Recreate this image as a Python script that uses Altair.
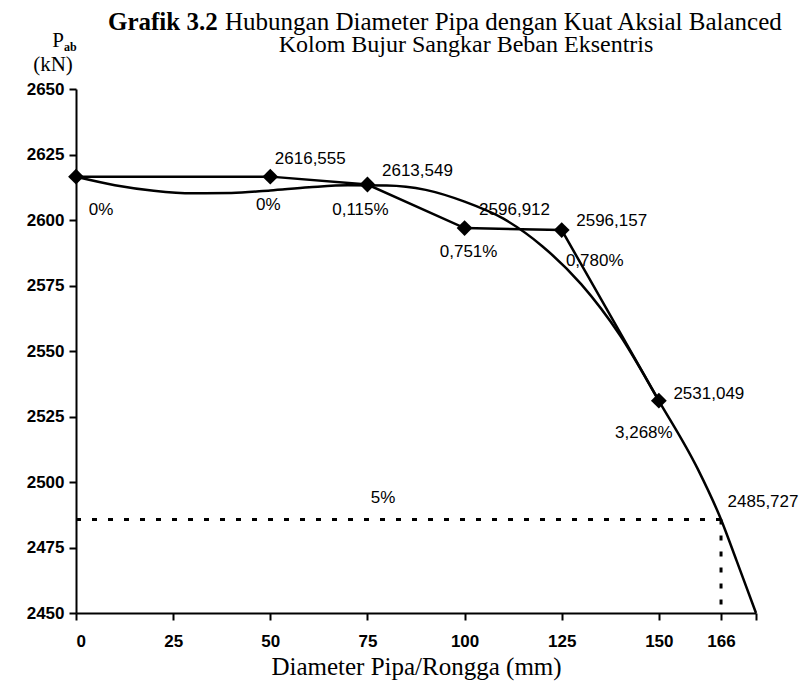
import altair as alt
import pandas as pd

# ---- data ----
diam = [0, 50, 75, 100, 125, 150]
pab = [2616.555, 2616.555, 2613.549, 2596.912, 2596.157, 2531.049]
pab_labels = ["", "2616,555", "2613,549", "2596,912", "2596,157", "2531,049"]
pct_labels = ["0%", "0%", "0,115%", "0,751%", "0,780%", "3,268%"]

trend_x = [0, 10, 20, 30, 40, 50, 60, 70, 80, 90, 100, 110, 120, 130, 140, 150, 160, 166, 170, 175]
trend_y = [2616.5, 2613.3, 2611.2, 2610.2, 2610.3, 2611.3, 2612.5, 2613.3, 2613.2, 2611.5,
           2607.0, 2600.5, 2590.0, 2575.5, 2556.0, 2531.0, 2505.0, 2485.7, 2470.0, 2450.0]

limit_x = [0, 166]
limit_y = [2485.727, 2450.0]
limit_label = "2485,727"
limit_pct = "5%"
limit_pct_pos = [79, 2494]

x_ticks = [0, 25, 50, 75, 100, 125, 150, 166, 175]
y_ticks = [2450, 2475, 2500, 2525, 2550, 2575, 2600, 2625, 2650]

title_bold = "Grafik 3.2"
title_rest = "Hubungan Diameter Pipa dengan Kuat Aksial Balanced"
title_line2 = "Kolom Bujur Sangkar Beban Eksentris"
y_title_main = "P"
y_title_sub = "ab"
y_title_unit = "(kN)"
x_title = "Diameter Pipa/Rongga (mm)"

# ---- tables ----
pts = pd.DataFrame({"d": diam, "p": pab, "vl": pab_labels, "pl": pct_labels, "i": list(range(len(diam)))})
trend = pd.DataFrame({"d": trend_x, "p": trend_y})
hrule = pd.DataFrame({"d": [limit_x[0]], "d2": [limit_x[1]], "p": [limit_y[0]]})
vrule = pd.DataFrame({"d": [limit_x[1]], "p": [limit_y[0]], "p2": [limit_y[1]]})
lim_pt = pd.DataFrame({"d": [limit_x[1]], "p": [limit_y[0]], "t": [limit_label]})
pct5 = pd.DataFrame({"d": [limit_pct_pos[0]], "p": [limit_pct_pos[1]], "t": [limit_pct]})

SANS = "Liberation Sans"
SERIF = "Liberation Serif"

xs = alt.Scale(domain=[0, 175], nice=False, zero=False)
ys = alt.Scale(domain=[2450, 2650], nice=False, zero=False)

x_axis = alt.Axis(values=x_ticks, title=x_title, format="d",
                  labelExpr="datum.value == 175 ? '' : datum.label",
                  labelFont=SANS, labelFontSize=17, labelFontWeight="bold",
                  labelPadding=13, titleFont=SERIF, titleFontSize=25,
                  titleFontWeight="normal", titlePadding=5)
y_axis = alt.Axis(values=y_ticks, title=None, format="d", labelFont=SANS, labelFontSize=17,
                  labelFontWeight="bold", labelPadding=5)

def X(field="d"):
    return alt.X(f"{field}:Q", scale=xs, axis=x_axis, title=x_title)

def Y(field="p"):
    return alt.Y(f"{field}:Q", scale=ys, axis=y_axis, title=None)

base_line = alt.Chart(pts).mark_line(color="black", strokeWidth=2.5).encode(x=X(), y=Y())

trend_line = alt.Chart(trend).mark_line(color="black", strokeWidth=2.5,
                                        interpolate="monotone").encode(x=X(), y=Y())

pts_mark = alt.Chart(pts).mark_point(shape="diamond", filled=True, color="black",
                                     size=250, opacity=1).encode(x=X(), y=Y())

h_dot = alt.Chart(hrule).mark_rule(color="black", strokeWidth=3, strokeDash=[5, 11]).encode(
    x=X(), x2="d2:Q", y=Y())
v_dot = alt.Chart(vrule).mark_rule(color="black", strokeWidth=3, strokeDash=[5, 11]).encode(
    x=X(), y=Y(), y2="p2:Q")

# label offsets (styling only)
val_off = {1: (40, -18), 2: (50, -14), 3: (50, -18), 4: (50, -9), 5: (50, -7)}
pct_off = {0: (25, 33), 1: (-2, 28), 2: (-7, 25), 3: (4, 24), 4: (33, 31), 5: (-15, 32)}

label_layers = []
for i, (dx, dy) in val_off.items():
    label_layers.append(
        alt.Chart(pts).transform_filter(alt.datum.i == i).mark_text(
            font=SANS, fontSize=17, color="black", align="center", baseline="middle",
            dx=dx, dy=dy).encode(x=X(), y=Y(), text="vl:N"))
for i, (dx, dy) in pct_off.items():
    label_layers.append(
        alt.Chart(pts).transform_filter(alt.datum.i == i).mark_text(
            font=SANS, fontSize=17, color="black", align="center", baseline="middle",
            dx=dx, dy=dy).encode(x=X(), y=Y(), text="pl:N"))

lim_text = alt.Chart(lim_pt).mark_text(font=SANS, fontSize=17, color="black",
                                       align="center", baseline="middle", dx=42, dy=-17).encode(
    x=X(), y=Y(), text="t:N")
pct5_text = alt.Chart(pct5).mark_text(font=SANS, fontSize=17, color="black",
                                      align="center", baseline="middle").encode(
    x=X(), y=Y(), text="t:N")

def free_text(txt, x, y, size, weight="normal", align="left", font=SERIF):
    return alt.Chart(pd.DataFrame({"t": [txt]})).mark_text(
        font=font, fontSize=size, fontWeight=weight, align=align,
        baseline="alphabetic", color="black").encode(
        x=alt.value(x), y=alt.value(y), text="t:N")

titles = [
    free_text(title_bold, 32, -59, 25, weight="bold"),
    free_text(title_rest, 149, -59, 25),
    free_text(title_line2, 390, -37, 24, align="center"),
    free_text(y_title_main, -12, -42, 21, align="right"),
    free_text(y_title_sub, -12, -38, 12, weight="bold"),
    free_text(y_title_unit, -23, -18, 21, align="center"),
]

chart = alt.layer(base_line, trend_line, h_dot, v_dot, pts_mark, *label_layers,
                  lim_text, pct5_text, *titles).properties(
    width=680, height=524,
    autosize=alt.AutoSizeParams(type="none"),
    padding={"left": 68, "top": 81, "right": 48, "bottom": 75},
    background="white",
).configure_axis(
    domainColor="black", domainWidth=2, tickColor="black", tickWidth=2, tickSize=7,
    grid=False, labelColor="black", titleColor="black",
).configure_view(stroke=None)

chart.save("out.html", embed_options={"renderer": "svg", "actions": False})
